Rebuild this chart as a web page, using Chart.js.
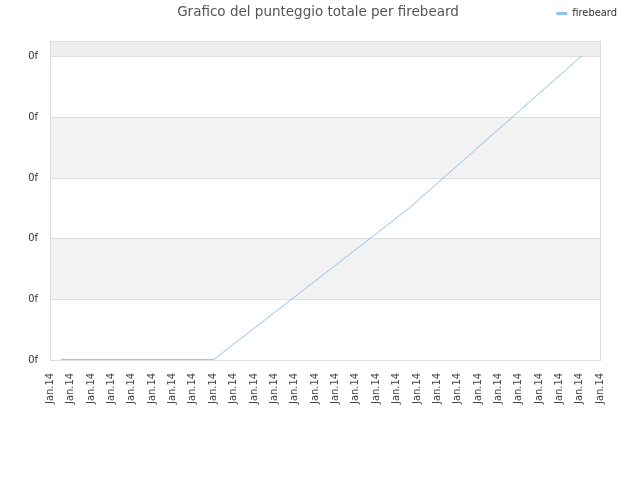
<!DOCTYPE html>
<html>
<head>
<meta charset="utf-8">
<script src="https://cdn.jsdelivr.net/npm/chart.js@4/dist/chart.umd.min.js"></script>
<style>
  html, body { margin: 0; padding: 0; background: #fff; }
  #wrap { width: 640px; height: 480px; }
</style>
</head>
<body>
<div id="wrap"><canvas id="scoreChart" width="640" height="480"></canvas></div>
<script>
const chartTitle = 'Grafico del punteggio totale per firebeard';
const seriesName = 'firebeard';
// 28 date ticks, all printed as "Jan.14"
const xTickLabels = Array(28).fill('Jan.14');
const yTickLabel = '0f';
// points (x in tick units, y in grid units)
const pointX = [0.54, 8.05, 17.67, 26.12];
const pointY = [0.01, 0.01, 2.51, 5.01];

document.addEventListener('DOMContentLoaded', function () {
    const canvas = document.getElementById('scoreChart');
    const ctx = canvas.getContext('2d');

    const points = pointX.map((x, i) => ({ x: x, y: pointY[i] }));

    // alternating horizontal bands, drawn from the y scale
    const bandPlugin = {
        id: 'bands',
        beforeDatasetsDraw(chart) {
            const y = chart.scales.y;
            const area = chart.chartArea;
            const c = chart.ctx;
            c.save();
            for (let v = 1; v < y.max; v += 2) {
                const top = y.getPixelForValue(Math.min(v + 1, y.max));
                const bottom = y.getPixelForValue(v);
                c.fillStyle = v + 1 >= y.max ? '#eeeeee' : '#f2f2f2';
                c.fillRect(area.left, top, area.right - area.left, bottom - top);
            }
            // grid lines over the bands
            c.strokeStyle = '#dddddd';
            c.lineWidth = 1;
            for (let v = 0; v <= y.max; v += 1) {
                const py = Math.round(y.getPixelForValue(v)) + 0.5;
                c.beginPath();
                c.moveTo(area.left, py);
                c.lineTo(area.right, py);
                c.stroke();
            }
            c.strokeRect(area.left + 0.5, area.top + 0.5, area.right - area.left, area.bottom - area.top);
            c.restore();
        }
    };

    const titlePlugin = {
        id: 'plainTitle',
        afterDraw(chart) {
            const c = chart.ctx;
            c.save();
            c.font = '13.5px "DejaVu Sans"';
            c.fillStyle = '#555555';
            c.textAlign = 'center';
            c.textBaseline = 'middle';
            c.fillText(chartTitle, chart.width / 2 - 2, 12);
            c.restore();
        }
    };

    new Chart(ctx, {
        type: 'line',
        data: {
            datasets: [{
                label: seriesName,
                data: points,
                borderColor: '#90c0f0',
                backgroundColor: '#90c0f0',
                borderWidth: 1,
                pointRadius: 0,
                tension: 0,
                fill: false
            }]
        },
        options: {
            responsive: false,
            animation: false,
            layout: { padding: { top: 0, right: 15, bottom: 0, left: 0 } },
            plugins: {
                legend: {
                    position: 'top',
                    align: 'end',
                    labels: {
                        boxWidth: 10,
                        boxHeight: 2,
                        padding: 8,
                        color: '#333333',
                        font: { family: 'DejaVu Sans Condensed', size: 11 }
                    }
                },
                tooltip: { enabled: false },
                title: { display: false }
            },
            scales: {
                x: {
                    type: 'linear',
                    min: 0,
                    max: xTickLabels.length - 1,
                    grid: { display: false, drawTicks: false },
                    border: { display: false },
                    afterBuildTicks: function (scale) {
                        scale.ticks = xTickLabels.map((l, i) => ({ value: i }));
                    },
                    afterFit: function (scale) { scale.height = 120; },
                    ticks: {
                        autoSkip: false,
                        minRotation: 90,
                        maxRotation: 90,
                        padding: 13,
                        color: '#444444',
                        font: { family: 'DejaVu Sans Condensed', size: 11 },
                        callback: function (value, index) { return xTickLabels[index]; }
                    }
                },
                xTop: {
                    type: 'linear',
                    position: 'top',
                    display: true,
                    grid: { display: false, drawTicks: false },
                    border: { display: false },
                    ticks: { display: false },
                    afterFit: function (scale) { scale.height = 12; }
                },
                y: {
                    min: 0,
                    max: 5.25,
                    grid: { display: false, drawTicks: false },
                    border: { display: false },
                    afterBuildTicks: function (scale) {
                        scale.ticks = [0, 1, 2, 3, 4, 5].map(v => ({ value: v }));
                    },
                    afterFit: function (scale) { scale.width = 50; },
                    ticks: {
                        padding: 12,
                        color: '#333333',
                        font: { family: 'DejaVu Sans Condensed', size: 11 },
                        callback: function () { return yTickLabel; }
                    }
                },
                yRight: {
                    position: 'right',
                    display: true,
                    grid: { display: false, drawTicks: false },
                    border: { display: false },
                    ticks: { display: false },
                    afterFit: function (scale) { scale.width = 25; }
                }
            }
        },
        plugins: [bandPlugin, titlePlugin]
    });
});
</script>
</body>
</html>
